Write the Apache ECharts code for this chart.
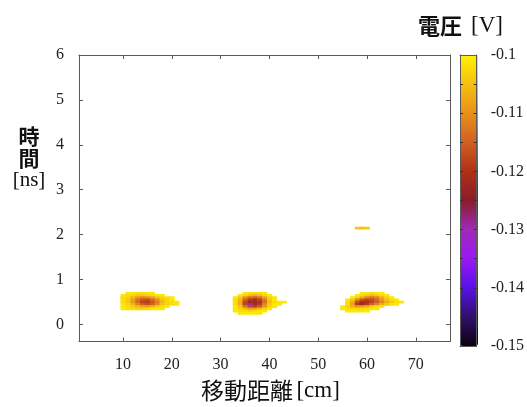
<!DOCTYPE html>
<html><head><meta charset="utf-8">
<script src="https://cdn.jsdelivr.net/npm/echarts@6/dist/echarts.min.js"></script>
<style>html,body{margin:0;padding:0;background:#fff}#c{width:527px;height:407px}</style>
</head><body><div id="c"></div>
<script>
// tick labels
const xTicks = [10, 20, 30, 40, 50, 60, 70];
const yTicks = [0, 1, 2, 3, 4, 5, 6];
const cbTicks = [-0.15, -0.14, -0.13, -0.12, -0.11, -0.1];
const cbMinor = [-0.145, -0.14, -0.135, -0.13, -0.125, -0.12, -0.115, -0.11, -0.105];
// colour map (low -> high voltage)
const palette = ['#0d0010','#30106a','#5a10e8','#9a18f5','#a02ab8','#8a1c2a','#b03018','#d06020','#e8901a','#f5c010','#fff200'];
// grid resolution: 1 cm x 0.05 ns
const cellX = 1, cellY = 0.05;
// rows: [time ns, first x cm, voltages...]
const blob15 = [
  [0.70, 11, [-0.101,-0.101,-0.102,-0.102,-0.101,-0.101]],
  [0.65, 10, [-0.101,-0.102,-0.103,-0.104,-0.104,-0.103,-0.102,-0.101,-0.101]],
  [0.60, 10, [-0.102,-0.103,-0.106,-0.109,-0.111,-0.110,-0.108,-0.105,-0.103,-0.102,-0.101]],
  [0.55, 10, [-0.102,-0.104,-0.108,-0.113,-0.116,-0.117,-0.114,-0.110,-0.105,-0.103,-0.101]],
  [0.50, 10, [-0.102,-0.104,-0.109,-0.114,-0.118,-0.119,-0.116,-0.112,-0.106,-0.103,-0.102,-0.101]],
  [0.45, 10, [-0.101,-0.103,-0.106,-0.111,-0.115,-0.117,-0.115,-0.111,-0.105,-0.103,-0.102,-0.101]],
  [0.40, 10, [-0.101,-0.102,-0.104,-0.106,-0.108,-0.109,-0.107,-0.104,-0.102,-0.101]],
  [0.35, 10, [-0.101,-0.102,-0.102,-0.103,-0.103,-0.102,-0.101,-0.101,-0.101]]
];
const blob37 = [
  [0.70, 35, [-0.101,-0.102,-0.102,-0.102,-0.101]],
  [0.65, 34, [-0.101,-0.103,-0.105,-0.106,-0.105,-0.103,-0.101]],
  [0.60, 33, [-0.101,-0.104,-0.110,-0.114,-0.115,-0.113,-0.108,-0.103,-0.101]],
  [0.55, 33, [-0.102,-0.106,-0.115,-0.119,-0.121,-0.118,-0.112,-0.104,-0.101]],
  [0.50, 33, [-0.102,-0.107,-0.118,-0.123,-0.122,-0.120,-0.114,-0.105,-0.102,-0.101,-0.101]],
  [0.45, 33, [-0.102,-0.107,-0.118,-0.131,-0.122,-0.119,-0.111,-0.104,-0.101,-0.101]],
  [0.40, 33, [-0.101,-0.105,-0.113,-0.118,-0.119,-0.116,-0.110,-0.103,-0.101]],
  [0.35, 33, [-0.101,-0.103,-0.106,-0.108,-0.108,-0.106,-0.103,-0.101]],
  [0.30, 33, [-0.101,-0.102,-0.102,-0.103,-0.102,-0.101,-0.101]],
  [0.25, 34, [-0.101,-0.101,-0.101,-0.101,-0.101]]
];
const blob60 = [
  [0.70, 59, [-0.101,-0.101,-0.102,-0.101,-0.101]],
  [0.65, 58, [-0.101,-0.102,-0.104,-0.105,-0.104,-0.102,-0.101]],
  [0.60, 57, [-0.101,-0.103,-0.107,-0.111,-0.113,-0.111,-0.107,-0.103,-0.101]],
  [0.55, 56, [-0.101,-0.104,-0.111,-0.116,-0.118,-0.117,-0.114,-0.109,-0.105,-0.102,-0.101]],
  [0.50, 56, [-0.102,-0.107,-0.117,-0.121,-0.120,-0.118,-0.115,-0.111,-0.107,-0.104,-0.102,-0.101]],
  [0.45, 56, [-0.102,-0.108,-0.119,-0.122,-0.119,-0.115,-0.111,-0.107,-0.104,-0.102,-0.101]],
  [0.40, 55, [-0.101,-0.103,-0.107,-0.110,-0.109,-0.107,-0.104,-0.102,-0.101]],
  [0.35, 55, [-0.101,-0.102,-0.103,-0.103,-0.102,-0.102,-0.101,-0.101]],
  [0.30, 56, [-0.101,-0.101,-0.101,-0.101,-0.101]]
];
const spot = [
  [2.15, 58, [-0.104,-0.105,-0.104]]
];

const cells = [];
[blob15, blob37, blob60, spot].forEach(b => b.forEach(([t, x0, vals]) => {
  vals.forEach((v, i) => cells.push([x0 + i * cellX, t, v]));
}));

const serif = 'Liberation Serif';
const cjk = 'Noto Sans CJK JP';
const frame = '#5a5a5a';
const lbl = { fontFamily: serif, fontSize: 16, color: '#222' };

function mainX(pos, labels) {
  return {
    type: 'value', gridIndex: 0, position: pos, min: 1, max: 77,
    axisLine: { show: true, onZero: false, lineStyle: { color: frame } },
    axisTick: { show: true, inside: true, length: 4, customValues: xTicks, lineStyle: { color: frame } },
    axisLabel: Object.assign({ show: labels, customValues: xTicks, margin: 15 }, lbl),
    splitLine: { show: false }
  };
}
function mainY(pos, labels) {
  return {
    type: 'value', gridIndex: 0, position: pos, min: -0.38, max: 6,
    axisLine: { show: true, onZero: false, lineStyle: { color: frame } },
    axisTick: { show: true, inside: true, length: 4, customValues: yTicks, lineStyle: { color: frame } },
    axisLabel: Object.assign({ show: labels, customValues: yTicks, margin: 15 }, lbl),
    splitLine: { show: false }
  };
}
function cbX(pos) {
  return {
    type: 'value', gridIndex: 1, position: pos, min: 0, max: 1, z: 10,
    axisLine: { show: true, onZero: false, lineStyle: { color: frame } },
    axisTick: { show: false }, axisLabel: { show: false }, splitLine: { show: false }
  };
}
function cbY(pos, labels) {
  return {
    type: 'value', gridIndex: 1, position: pos, min: -0.15, max: -0.1, z: 10,
    axisLine: { show: true, onZero: false, lineStyle: { color: frame } },
    axisTick: { show: true, inside: true, length: 3, customValues: cbMinor, lineStyle: { color: '#333' } },
    axisLabel: Object.assign({ show: labels, customValues: cbTicks, margin: 14,
      formatter: v => String(Math.round(v * 100) / 100) }, lbl),
    splitLine: { show: false }
  };
}

const xMain = mainX('bottom', true);
xMain.name = '{a|移動距離} {b|[cm]}';
xMain.nameLocation = 'middle';
xMain.nameGap = 49;
xMain.nameTextStyle = { verticalAlign: 'middle', align: 'center', padding: [0, 0, 0, 12],
  rich: { a: { fontFamily: cjk, fontSize: 23, color: '#111' }, b: { fontFamily: serif, fontSize: 23, color: '#111' } } };

const yMain = mainY('left', true);
yMain.name = '{a|時}\n{a|間}\n{b|[ns]}';
yMain.nameLocation = 'middle';
yMain.nameRotate = 0;
yMain.nameGap = 50;
yMain.nameTextStyle = { align: 'center', verticalAlign: 'middle', padding: [0, 0, 80, 0],
  rich: { a: { fontFamily: cjk, fontWeight: 'bold', fontSize: 21, lineHeight: 22, color: '#111' },
          b: { fontFamily: serif, fontSize: 21, lineHeight: 22, color: '#111' } } };

const chart = echarts.init(document.getElementById('c'), null, { renderer: 'canvas' });
chart.setOption({
  animation: false,
  backgroundColor: '#fff',
  title: {
    text: '{a|電圧} {b|[V]}', left: 418, top: 14, padding: 0,
    textStyle: { fontWeight: 'normal', rich: {
      a: { fontFamily: cjk, fontWeight: 'bold', fontSize: 22, color: '#111' },
      b: { fontFamily: serif, fontWeight: 'normal', fontSize: 23, color: '#111', padding: [0, 0, 0, 4] } } }
  },
  grid: [
    { left: 79, top: 55, width: 371, height: 289, containLabel: false },
    { left: 460, top: 55, width: 18, height: 291, containLabel: false }
  ],
  xAxis: [xMain, mainX('top', false), cbX('bottom'), cbX('top')],
  yAxis: [yMain, mainY('right', false), cbY('left', false), cbY('right', true)],
  visualMap: {
    type: 'continuous', min: -0.15, max: -0.1, dimension: 2, seriesIndex: 0,
    orient: 'vertical', left: 460, top: 55, itemWidth: 18, itemHeight: 291,
    padding: 0, text: null, showLabel: false, calculable: false, hoverLink: false,
    inRange: { color: palette }
  },
  series: [{
    type: 'custom', xAxisIndex: 0, yAxisIndex: 0, clip: true,
    encode: { x: 0, y: 1 },
    data: cells,
    renderItem: function (params, api) {
      const x = api.value(0), y = api.value(1);
      const p0 = api.coord([x - cellX / 2, y + cellY / 2]);
      const p1 = api.coord([x + cellX / 2, y - cellY / 2]);
      return { type: 'rect',
        shape: { x: p0[0], y: p0[1], width: p1[0] - p0[0] + 0.4, height: p1[1] - p0[1] + 0.4 },
        style: { fill: api.visual('color') } };
    }
  }]
});
</script></body></html>
